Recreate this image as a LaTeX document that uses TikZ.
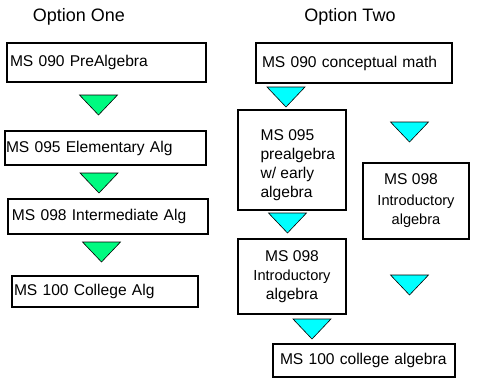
\documentclass[tikz,border=0pt]{standalone}
\usepackage{fontspec}
\setmainfont{Liberation Sans}
\usepackage{tikz}
\usetikzlibrary{positioning}
\definecolor{tgreen}{RGB}{0,250,128}
\definecolor{tcyan} {RGB}{0,255,255}
\newcommand{\boxfont}{\fontsize{15.6}{19}\selectfont}
\tikzset{
  box/.style={rectangle, draw=black, line width=1.6pt, fill=white,
              font=\boxfont, inner ysep=0pt},
  lbox/.style={box, align=left},
  mbox/.style={box, align=center, inner xsep=0pt},
  title/.style={font=\fontsize{18}{20}\selectfont},
  pics/dtri/.style={code={
    \filldraw[fill=#1, draw=black, line width=0.6pt]
      (-19,0) -- (19,0) -- (0,20) -- cycle;}},
}

\begin{document}
\begin{tikzpicture}[x=1pt, y=-1pt]
  \useasboundingbox[fill=white] (0,0) rectangle (477,384);

  % ── Titles ─────────────────────────────────────────────────────────────────
  \node[title] (t1) at (79,17)  {Option One};
  \node[title] (t2) at (350,17) {Option Two};

  % ── Option One ─────────────────────────────────────────────────────────────
  \node[lbox, inner xsep=3pt, text width=193pt, minimum height=39pt] at (106.5,62.5) (a090) {MS 090 PreAlgebra};
  \node[lbox, inner xsep=1pt, text width=199pt, minimum height=34pt] at (105.5,148)  (a095) {MS 095 Elementary Alg};
  \node[lbox, inner xsep=4pt, text width=192pt, minimum height=35pt] at (108,216.5)  (a098) {MS 098 Intermediate Alg};
  \node[lbox, inner xsep=2pt, text width=182pt, minimum height=31pt] at (105,291.5)  (a100) {MS 100 College Alg};

  \pic at (98.5,95)  {dtri=tgreen};
  \pic at (99,173)   {dtri=tgreen};
  \pic at (101.5,242){dtri=tgreen};

  % ── Option Two ─────────────────────────────────────────────────────────────
  \node[lbox, inner xsep=6pt, text width=184pt, minimum height=40pt] at (354,63)    (b090)  {MS 090 conceptual math};
  \node[box, align=left, minimum width=108pt, minimum height=100pt]  at (292,160)   (b095)  {};
  \node[align=left, font=\boxfont, anchor=north west] at (257,126) (b095t) {MS 095\\prealgebra\\w/ early\\algebra};
  \node[mbox, minimum width=106pt, minimum height=76pt]              at (416,201)   (b098r) {\hspace*{-10pt}MS 098\\[2pt]{\fontsize{14.6}{16}\selectfont Introductory}\\{\fontsize{14.6}{16}\selectfont algebra}};
  \node[mbox, minimum width=108pt, minimum height=75pt]              at (292,276.5) (b098l) {MS 098\\{\fontsize{14.6}{18}\selectfont Introductory}\\algebra};
  \node[lbox, inner xsep=7pt, text width=168pt, minimum height=33pt] at (364,360.5) (b100)  {MS 100 college algebra};

  \pic at (286,87)   {dtri=tcyan};
  \pic at (409.5,122){dtri=tcyan};
  \pic at (287.5,213){dtri=tcyan};
  \pic at (409.5,275){dtri=tcyan};
  \pic at (312,319)  {dtri=tcyan};
\end{tikzpicture}
\end{document}
